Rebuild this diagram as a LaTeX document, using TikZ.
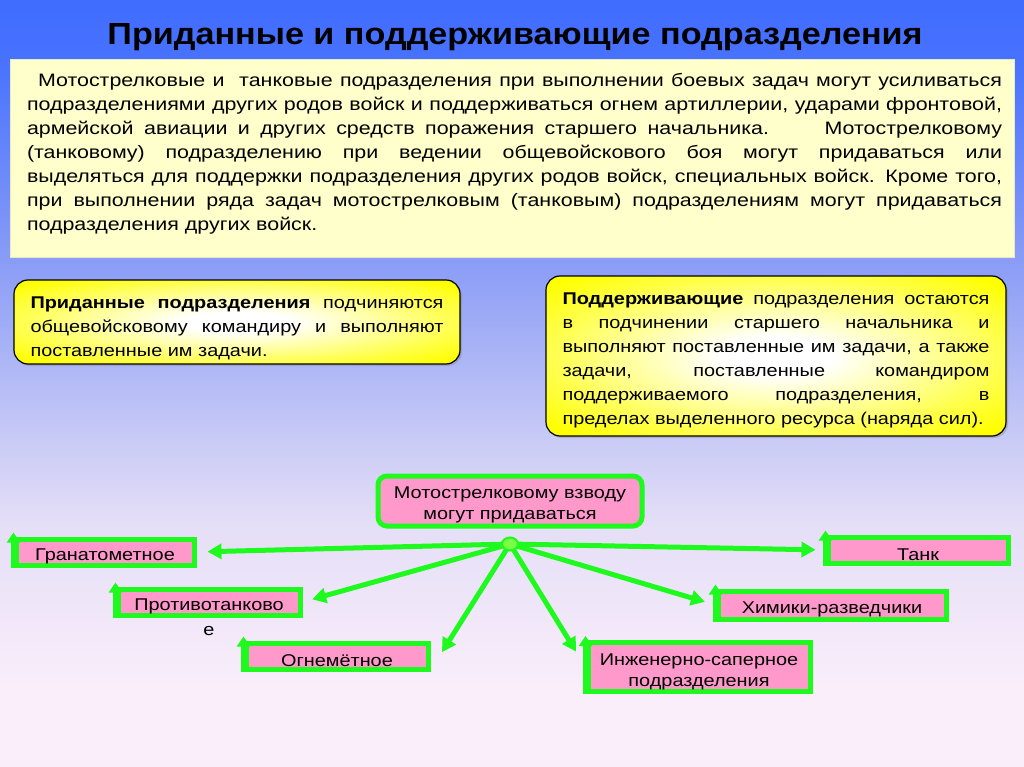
\documentclass[tikz,border=0pt]{standalone}
\usepackage{fontspec}
\setmainfont{Liberation Sans}[FakeStretch=1.17]
\newfontfamily\introfont{Liberation Sans}[FakeStretch=1.19]
\newfontfamily\titlefont{Liberation Sans}[FakeStretch=1.12]
\usetikzlibrary{arrows.meta,shapes.geometric,shadows}
\definecolor{bgtop}{RGB}{64,108,255}
\definecolor{bgA}{RGB}{72,114,255}
\definecolor{bgB}{RGB}{140,158,246}
\definecolor{bgC}{RGB}{200,202,246}
\definecolor{bgD}{RGB}{228,222,247}
\definecolor{bgbot}{RGB}{250,238,250}
\definecolor{paper}{RGB}{255,255,204}
\definecolor{paperedge}{RGB}{232,232,195}
\definecolor{pinkfill}{RGB}{255,153,204}
\definecolor{lime}{RGB}{30,250,30}
\definecolor{limedot}{RGB}{120,255,70}
\definecolor{glowyellow}{RGB}{255,255,0}
\pgfdeclareverticalshading{bgshade}{100bp}{color(0bp)=(bgbot); color(30bp)=(bgbot); color(41bp)=(bgD); color(46.5bp)=(bgC); color(57.5bp)=(bgB); color(71bp)=(bgA); color(75bp)=(bgtop); color(100bp)=(bgtop)}
\pgfdeclareradialshading{glow}{\pgfpoint{0bp}{0bp}}{color(0bp)=(white); color(6bp)=(white); color(18bp)=(glowyellow!45!white); color(25bp)=(glowyellow!72!white); color(33bp)=(glowyellow); color(50bp)=(glowyellow)}
\newcommand\jline[2]{\makebox[#1][s]{#2}}
\newcommand\lline[2]{\makebox[#1][l]{#2}}
\newcommand\lift[1]{\rule{0pt}{#1}}
\tikzset{
  bodyfont/.style={font=\fontsize{17}{24}\selectfont},
  introtextfont/.style={font=\introfont\fontsize{18}{24}\selectfont},
  titletext/.style={font=\titlefont\bfseries\fontsize{30.5}{36}\selectfont},
  introbox/.style={draw=paperedge, line width=1pt, fill=paper, inner sep=0pt},
  notebox/.style={draw=black, line width=1.2pt, rounded corners=14pt, shade, shading=glow,
    drop shadow={opacity=0.35, shadow xshift=2pt, shadow yshift=-2pt}, inner sep=0pt},
  notetext/.style={bodyfont, align=left, inner sep=0pt},
  unitbox/.style={draw=lime, line width=5pt, fill=pinkfill, inner sep=0pt, align=center,
    font=\fontsize{17}{21}\selectfont},
  hub/.style={ellipse, draw=lime, fill=limedot, line width=2pt, minimum width=16pt, minimum height=13pt, inner sep=0pt},
  feed/.style={draw=lime, line width=5pt, -{Triangle[length=14pt,width=15pt]}},
  cornertip/.style={draw=lime, line width=5pt, -{Triangle[length=10pt,width=13pt]}},
}
\begin{document}
\begin{tikzpicture}[x=1pt,y=-1pt]
\shade[shading=bgshade] (0,0) rectangle (1024,767);
\useasboundingbox (0,0) rectangle (1024,767);

% title
\node[titletext] (title) at (515,37) {Приданные и поддерживающие подразделения};

% intro box
\node[introbox, minimum width=1004pt, minimum height=197pt] (intro) at (512,158.5) {};
\node[introtextfont, align=left, inner sep=0pt] (introtext) at (514.5,154) {%
\jline{975pt}{\hspace*{11pt}Мотострелковые и\ \ танковые подразделения при выполнении боевых задач могут усиливаться}\\
\jline{975pt}{подразделениями других родов войск и поддерживаться огнем артиллерии, ударами фронтовой,}\\
\jline{975pt}{армейской авиации и других средств поражения старшего начальника.\hspace{34pt} Мотострелковому}\\
\jline{975pt}{(танковому) подразделению при ведении общевойскового боя могут придаваться или}\\
\jline{975pt}{выделяться для поддержки подразделения других родов войск, специальных войск. Кроме того,}\\
\jline{975pt}{при выполнении ряда задач мотострелковым (танковым) подразделениям могут придаваться}\\
\lline{975pt}{подразделения других войск.}};

% yellow notes
\node[notebox, minimum width=446pt, minimum height=84pt] (attached) at (237,322) {};
\node[notetext] (attachedtext) at (237,328) {%
\jline{413pt}{\textbf{Приданные подразделения} подчиняются}\\
\jline{413pt}{общевойсковому командиру и выполняют}\\
\lline{413pt}{поставленные им задачи.}};

\node[notebox, minimum width=460pt, minimum height=160pt] (supporting) at (776,356) {};
\node[notetext] (supportingtext) at (776,360) {%
\jline{427pt}{\textbf{Поддерживающие} подразделения остаются}\\
\jline{427pt}{в подчинении старшего начальника и}\\
\jline{427pt}{выполняют поставленные им задачи, а также}\\
\jline{427pt}{задачи, поставленные командиром}\\
\jline{427pt}{поддерживаемого подразделения, в}\\
\lline{427pt}{пределах выделенного ресурса (наряда сил).}};

% diagram
\node[unitbox, rounded corners=9pt, minimum width=264pt, minimum height=50pt] (platoon) at (510,501)
  {\lift{19.5pt}Мотострелковому взводу\\могут придаваться};

\node[unitbox, minimum width=178pt, minimum height=26pt] (gran) at (105,552) {\lift{21.5pt}Гранатометное};
\node[unitbox, minimum width=182pt, minimum height=26pt] (prot) at (209,602) {\lift{21.5pt}Противотанково};
\node[font=\fontsize{17}{21}\selectfont, inner sep=0pt] (prottail) at (209,631) {е};
\node[unitbox, minimum width=182pt, minimum height=26pt] (ogn) at (337,656) {\lift{21.5pt}Огнемётное};
\node[unitbox, minimum width=180pt, minimum height=26pt] (tank) at (918,550) {\lift{21.5pt}Танк};
\node[unitbox, minimum width=228pt, minimum height=28pt] (chem) at (832,605) {\lift{21.5pt}Химики-разведчики};
\node[unitbox, minimum width=222pt, minimum height=49pt] (eng) at (699,667) {\lift{22.5pt}Инженерно-саперное\\подразделения};

% small up-tips on box corners
\foreach \b in {gran,prot,ogn,tank,chem,eng}
  \draw[cornertip] (\b.south west) -- ([yshift=4pt]\b.north west);

\coordinate (hubpt) at (510,544);
\draw[feed, shorten >=11pt] (hubpt) -- (gran.east);
\draw[feed, shorten >=10pt] (hubpt) -- (prot.east);
\draw[feed, shorten >=14pt] (hubpt) -- ([xshift=4pt,yshift=-8pt]ogn.east);
\draw[feed, shorten >=10pt] (hubpt) -- (tank.west);
\draw[feed, shorten >=11pt] (hubpt) -- (chem.west);
\draw[feed, shorten >=18pt] (hubpt) -- (eng.west);
\node[hub] (dot) at (hubpt) {};
\end{tikzpicture}
\end{document}
